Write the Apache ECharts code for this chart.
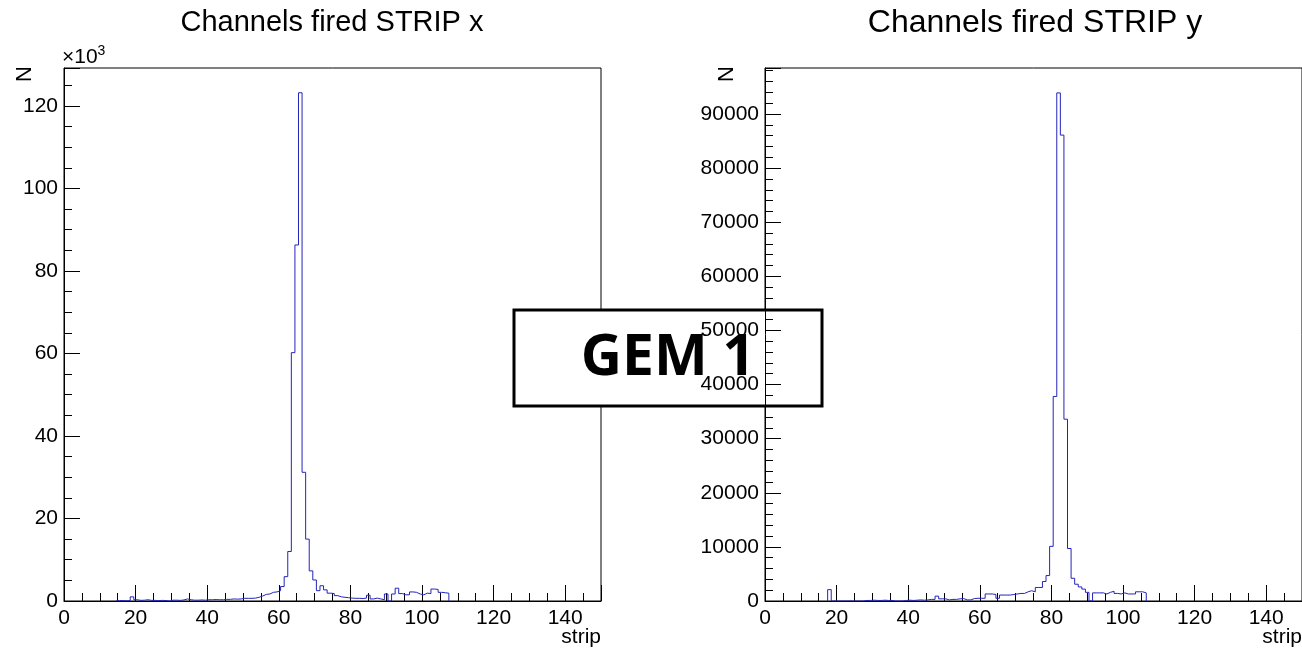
<!DOCTYPE html>
<html><head><meta charset="utf-8">
<script src="https://cdn.jsdelivr.net/npm/echarts@6/dist/echarts.min.js"></script>
<style>html,body{margin:0;padding:0;background:#fff}#c{width:1302px;height:653px}</style>
</head><body><div id="c"></div>
<script>
// ---- data ----
const titles = ['Channels fired STRIP x', 'Channels fired STRIP y'];
const xAxisName = 'strip';
const yAxisName = 'N';
const xTickLabels = [0, 20, 40, 60, 80, 100, 120, 140];
const yTickLabelsX = [0, 20, 40, 60, 80, 100, 120]; // in units of 10^3
const yTickLabelsY = [0, 10000, 20000, 30000, 40000, 50000, 60000, 70000, 80000, 90000];
const boxLabel = 'GEM 1';

// STRIP x : counts per strip, starting at strip 15
const firstStripX = 15;
const countsX = [
  100, 100, 50, 100, 1000, 300, 150, 200, 300, 150,
  150, 100, 150, 100, 0, 200, 200, 150, 250, 500,
  300, 200, 200, 250, 200, 300, 300, 350, 300, 300,
  400, 400, 500, 450, 500, 650, 650, 650, 700, 900,
  1200, 1600, 1700, 2100, 2200, 2500, 3500, 5900, 12000, 60200,
  86300, 123200, 31200, 15000, 7300, 5100, 2500, 3700, 2700, 1900,
  1800, 1300, 1000, 900, 800, 700, 650, 650, 600, 700,
  1400, 500, 700, 500, 300, 1700, 0, 1700, 3100, 1800,
  1500, 1500, 2200, 2100, 1700, 1500, 1900, 1800, 2900, 2800,
  2100, 2000, 1900
];
// STRIP y : counts per strip, starting at strip 18
const firstStripY = 18;
const countsY = [
  2100, 0, 0, 0, 0, 0, 0, 0, 0, 0,
  100, 100, 150, 100, 100, 150, 100, 100, 0, 0,
  0, 100, 150, 100, 150, 200, 150, 200, 300, 300,
  900, 400, 400, 200, 300, 300, 400, 450, 200, 200,
  450, 500, 500, 500, 1300, 1300, 1200, 500, 1100, 1100,
  1100, 1200, 1300, 1400, 1400, 1700, 1900, 1700, 2500, 2500,
  3600, 4700, 10100, 37800, 93900, 86100, 33600, 9700, 4200, 3100,
  2600, 2200, 1600, 0, 1500, 1500, 1500, 1300, 1600, 1800,
  1400, 1300, 1500, 1300, 1300, 1300, 1700, 1700, 1500
];
const xRange = [0, 150];
const yMaxX = 129200;
const yMaxY = 98500;

// ---- build ----
function histPoints(first, counts) {
  const pts = [[first - 0.5, 0]];
  counts.forEach((v, i) => pts.push([first + i - 0.5, v]));
  pts.push([first + counts.length - 0.5, 0]);
  return pts;
}
const FONT = 'Liberation Sans';
const BLACK = '#000';
const LINE = '#2424bb';

function majorX(g) {
  return {
    type: 'value', gridIndex: g, min: xRange[0], max: xRange[1], interval: 20,
    axisLine: { show: true, lineStyle: { color: BLACK, width: 1 } },
    axisTick: { show: true, inside: true, length: 16, lineStyle: { color: BLACK } },
    axisLabel: { fontFamily: FONT, fontSize: 21, color: BLACK, margin: 7,
      formatter: v => xTickLabels.includes(v) ? String(v) : '' },
    splitLine: { show: false }
  };
}
function minorX(g) {
  return {
    type: 'value', gridIndex: g, min: xRange[0], max: xRange[1], interval: 5, position: 'bottom',
    axisLine: { show: false },
    axisTick: { show: true, inside: true, length: 8, lineStyle: { color: BLACK } },
    axisLabel: { show: false }, splitLine: { show: false }
  };
}
function majorY(g, max, interval, labels, fmt) {
  return {
    type: 'value', gridIndex: g, min: 0, max: max, interval: interval, position: 'left',
    axisLine: { show: true, lineStyle: { color: BLACK, width: 1 } },
    axisTick: { show: true, inside: true, length: 16, lineStyle: { color: BLACK } },
    axisLabel: { fontFamily: FONT, fontSize: 21, color: BLACK, margin: 6,
      formatter: v => labels.includes(fmt(v)) ? String(fmt(v)) : '' },
    splitLine: { show: false }
  };
}
function minorY(g, max, interval) {
  return {
    type: 'value', gridIndex: g, min: 0, max: max, interval: interval, position: 'left', offset: 0,
    axisLine: { show: false },
    axisTick: { show: true, inside: true, length: 8, lineStyle: { color: BLACK } },
    axisLabel: { show: false }, splitLine: { show: false }
  };
}
function textEl(x, y, txt, size, align, rot) {
  return { type: 'text', x: x, y: y, rotation: rot || 0,
    style: { text: txt, fontFamily: FONT, fontSize: size, fill: BLACK, align: align, verticalAlign: 'middle' } };
}

const chart = echarts.init(document.getElementById('c'), null, { renderer: 'canvas' });
chart.setOption({
  backgroundColor: '#fff',
  animation: false,
  grid: [
    { left: 64, top: 68, width: 537, height: 533, show: true, borderColor: BLACK, borderWidth: 1,
      backgroundColor: '#fff', containLabel: false, outerBoundsMode: 'none' },
    { left: 765, top: 68, width: 537, height: 533, show: true, borderColor: BLACK, borderWidth: 1,
      backgroundColor: '#fff', containLabel: false, outerBoundsMode: 'none' }
  ],
  xAxis: [majorX(0), minorX(0), majorX(1), minorX(1)],
  yAxis: [
    majorY(0, yMaxX, 20000, yTickLabelsX, v => v / 1000),
    minorY(0, yMaxX, 5000),
    majorY(1, yMaxY, 10000, yTickLabelsY, v => v),
    minorY(1, yMaxY, 2000)
  ],
  series: [
    { type: 'line', xAxisIndex: 0, yAxisIndex: 0, step: 'end', showSymbol: false, silent: true,
      lineStyle: { color: LINE, width: 1 }, data: histPoints(firstStripX, countsX) },
    { type: 'line', xAxisIndex: 2, yAxisIndex: 2, step: 'end', showSymbol: false, silent: true,
      lineStyle: { color: LINE, width: 1 }, data: histPoints(firstStripY, countsY) }
  ],
  graphic: [
    textEl(332, 23, titles[0], 29, 'center'),
    textEl(1035, 23, titles[1], 32, 'center'),
    { type: 'text', x: 62, y: 44,
      style: { text: '{a|×10}{b|3}', fontFamily: FONT, fill: BLACK,
        rich: { a: { fontFamily: FONT, fontSize: 21, lineHeight: 24, verticalAlign: 'bottom', fill: BLACK },
                b: { fontFamily: FONT, fontSize: 14, lineHeight: 24, verticalAlign: 'top', fill: BLACK } } } },
    textEl(25, 74, yAxisName, 22, 'center', Math.PI / 2),
    textEl(727, 74, yAxisName, 22, 'center', Math.PI / 2),
    textEl(601, 637, xAxisName, 21, 'right'),
    textEl(1302, 637, xAxisName, 21, 'right'),
    { type: 'group', z: 100, children: [
      { type: 'rect', shape: { x: 514, y: 310, width: 308, height: 96 },
        style: { fill: '#fff', stroke: BLACK, lineWidth: 3 } },
      { type: 'text', x: 668, y: 359,
        style: { text: boxLabel, fontFamily: 'Open Sans', fontWeight: 'bold', fontSize: 57, fill: BLACK, align: 'center', verticalAlign: 'middle' } }
    ] }
  ]
});
</script>
</body></html>
